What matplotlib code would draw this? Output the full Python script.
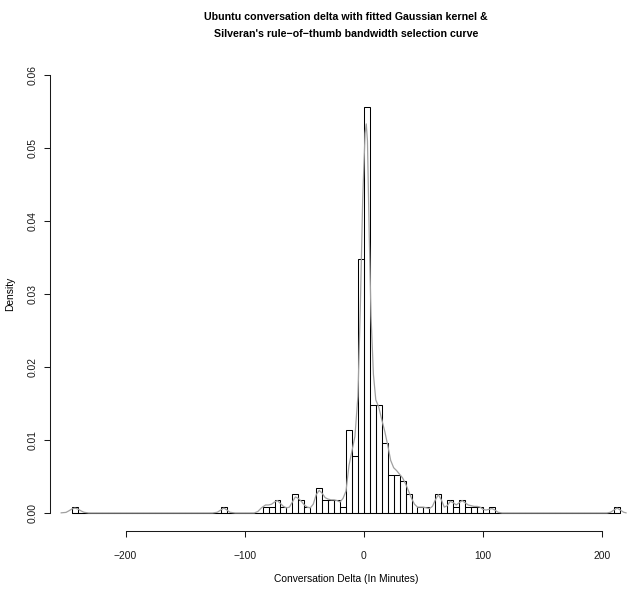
import matplotlib
matplotlib.use("Agg")
import matplotlib.pyplot as plt
import numpy as np

# Histogram: 5-minute bins from -245 to 215, density scale
breaks = np.arange(-245, 216, 5)
bin_density = {
    -245: 0.00087, -120: 0.00087,
    -85: 0.00087, -80: 0.00087, -75: 0.00174, -70: 0.00087,
    -60: 0.00261, -55: 0.00174, -50: 0.00087,
    -40: 0.00348, -35: 0.00174, -30: 0.00174, -25: 0.00174, -20: 0.00087,
    -15: 0.01130, -10: 0.00783, -5: 0.03478, 0: 0.05565,
    5: 0.01478, 10: 0.01478, 15: 0.00957, 20: 0.00522, 25: 0.00522,
    30: 0.00435, 35: 0.00261, 45: 0.00087, 50: 0.00087,
    60: 0.00261, 70: 0.00174, 75: 0.00087, 80: 0.00174,
    85: 0.00087, 90: 0.00087, 95: 0.00087, 105: 0.00087,
    210: 0.00087,
}
heights = [bin_density.get(int(b), 0.0) for b in breaks[:-1]]

# Gaussian kernel density curve (Silverman bandwidth)
curve_x = [-254, -250, -247.5, -245, -242.5, -240, -237.5, -235, -231,
           -127, -123, -120, -117.5, -115, -112.5, -108,
           -92, -89, -86, -82.5, -80, -77.5, -75, -72.5, -70, -67.5, -65,
           -62.5, -60, -57.5, -55, -52.5, -50, -47.5, -45, -42.5, -40,
           -37.5, -35, -32.5, -30, -27.5, -25, -22.5, -20, -17.5, -15,
           -12.5, -10, -7.5, -5, -3, -1, 1, 2, 3, 4.5, 6, 8, 10, 12.5,
           15, 17.5, 20, 22.5, 25, 27.5, 30, 32.5, 35, 37.5, 40, 42.5,
           45, 47.5, 50, 52.5, 55, 57.5, 60, 62.5, 65, 67.5, 70, 72.5,
           75, 77.5, 80, 82.5, 85, 87.5, 90, 92.5, 95, 97.5, 100, 102.5,
           105, 107.5, 110, 112.5, 116,
           204, 207, 210, 212.5, 215, 218, 220]
curve_y = [0.00002, 0.00008, 0.0003, 0.00055, 0.00067, 0.00055, 0.0003, 0.0001, 0.0,
           0.0, 0.0001, 0.00042, 0.00067, 0.00042, 0.0001, 0.0,
           0.0, 0.0002, 0.0007, 0.0011, 0.0011, 0.0012, 0.0015, 0.0017, 0.0013, 0.0009, 0.0007,
           0.0008, 0.0015, 0.0022, 0.0020, 0.0016, 0.0011, 0.0008, 0.0007, 0.0012, 0.0025,
           0.0031, 0.0027, 0.0021, 0.0019, 0.0018, 0.0018, 0.0017, 0.0015, 0.0020, 0.0030,
           0.0065, 0.0085, 0.0105, 0.0160, 0.0280, 0.0430, 0.0520, 0.0533, 0.0510, 0.0380, 0.0270, 0.0190, 0.0155, 0.0145,
           0.0128, 0.0112, 0.0093, 0.0072, 0.0062, 0.0058, 0.0053, 0.0048, 0.0040, 0.0030, 0.0020, 0.0012,
           0.0008, 0.0008, 0.0008, 0.0007, 0.0006, 0.0009, 0.0018, 0.0025, 0.0018, 0.0008, 0.0010, 0.0016,
           0.0014, 0.0011, 0.0014, 0.0017, 0.0014, 0.0011, 0.0010, 0.0009, 0.0009, 0.0008, 0.0005, 0.0004,
           0.0005, 0.0006, 0.0004, 0.0001, 0.0,
           0.0, 0.0001, 0.00042, 0.00067, 0.00042, 0.0001, 0.00002]

xticks = [-200, -100, 0, 100, 200]
yticks = [0.00, 0.01, 0.02, 0.03, 0.04, 0.05, 0.06]
ytick_labels = ["0.00", "0.01", "0.02", "0.03", "0.04", "0.05", "0.06"]

plt.rcParams['font.family'] = ['Liberation Sans', 'DejaVu Sans']

W, H = 628, 592
fig = plt.figure(figsize=(W / 100, H / 100), dpi=100)
# plot region: x from 50 px to 642 px (runs past the right edge), y from 57.5 to 530.5 px
ax = fig.add_axes([50 / W, (H - 530.5) / H, 592 / W, 473 / H])

ax.bar(breaks[:-1], heights, width=5, align='edge', fill=False,
       edgecolor='black', linewidth=0.75, zorder=2)
ax.hlines(0, breaks[0], breaks[-1], color='black', linewidth=0.75, zorder=2)
ax.plot(curve_x, curve_y, color='#a0a0a0', linewidth=0.9, zorder=3)

ax.set_xlim(-263.4, 233.4)
ax.set_ylim(-0.0024, 0.0624)

for s in ['top', 'right']:
    ax.spines[s].set_visible(False)
ax.spines['left'].set_bounds(0, 0.06)
ax.spines['bottom'].set_bounds(-200, 200)
for s in ['left', 'bottom']:
    ax.spines[s].set_linewidth(0.75)
    ax.spines[s].set_color('#1a1a1a')

ax.set_xticks(xticks)
ax.set_xticklabels([str(t).replace('-', '\u2212') for t in xticks])
ax.set_yticks(yticks)
ax.set_yticklabels(ytick_labels)
ax.tick_params(axis='both', direction='out', length=4.3, width=0.75,
               colors='#1a1a1a', labelsize=7.4)
ax.tick_params(axis='x', pad=10.5)
ax.tick_params(axis='y', pad=4.5)
for lab in ax.get_yticklabels():
    lab.set_rotation(90)
    lab.set_va('center')

fig.text(346 / W, 1 - 579 / H, "Conversation Delta (In Minutes)",
         ha='center', va='center', fontsize=7.4)
fig.text(10 / W, 1 - 294 / H, "Density", rotation=90,
         ha='center', va='center', fontsize=7.4)
fig.text(346 / W, 1 - 17.5 / H,
         "Ubuntu conversation delta with fitted Gaussian kernel &",
         ha='center', va='center', fontsize=7.7, fontweight='bold')
fig.text(346 / W, 1 - 34 / H,
         "Silveran's rule\u2212of\u2212thumb bandwidth selection curve",
         ha='center', va='center', fontsize=7.7, fontweight='bold')

fig.savefig("out.png", dpi=100)
